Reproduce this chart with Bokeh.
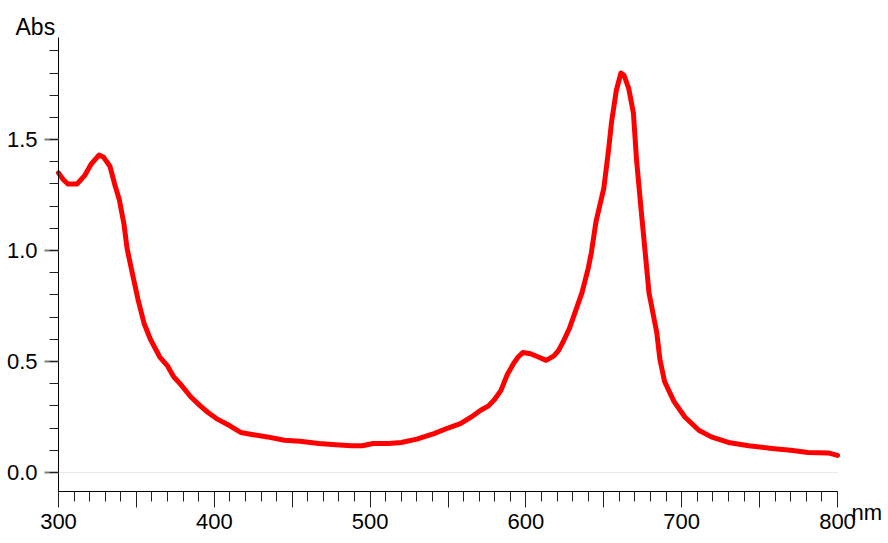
from bokeh.plotting import figure
from bokeh.models import (Range1d, SingleIntervalTicker, CustomJSTickFormatter,
                          PrintfTickFormatter, Label)
from bokeh.embed import file_html
from bokeh.resources import INLINE

# Wavelength (nm) and absorbance
wavelength = [300, 303, 306, 312, 317, 321, 326, 329, 333, 336, 339, 342, 344, 347,
              351, 355, 359, 365, 370, 374, 378, 385, 391, 396, 402, 410, 417, 425,
              434, 445, 455, 467, 478, 488, 495, 502, 512, 520, 530, 541, 550, 558,
              565, 571, 576, 580, 584, 588, 592, 595, 598, 603, 608, 613, 618, 621,
              624, 628, 632, 636, 640, 642, 645, 650, 653, 655, 658, 661, 663, 666,
              669, 671, 674, 677, 679, 684, 686, 689, 695, 702, 711, 719, 730, 743,
              758, 770, 781, 794, 800]
absorbance = [1.35, 1.32, 1.30, 1.30, 1.34, 1.39, 1.43, 1.42, 1.38, 1.30, 1.23, 1.12,
              1.01, 0.91, 0.78, 0.67, 0.60, 0.52, 0.48, 0.43, 0.40, 0.34, 0.30, 0.27,
              0.24, 0.21, 0.18, 0.17, 0.16, 0.145, 0.14, 0.13, 0.125, 0.12, 0.12,
              0.13, 0.13, 0.135, 0.15, 0.175, 0.20, 0.22, 0.25, 0.28, 0.30, 0.33,
              0.37, 0.44, 0.49, 0.52, 0.54, 0.535, 0.52, 0.505, 0.525, 0.55, 0.59,
              0.65, 0.73, 0.81, 0.92, 0.99, 1.13, 1.28, 1.45, 1.58, 1.72, 1.80, 1.79,
              1.73, 1.62, 1.41, 1.18, 0.96, 0.81, 0.63, 0.51, 0.41, 0.32, 0.25, 0.19,
              0.16, 0.135, 0.12, 0.108, 0.10, 0.09, 0.088, 0.077]

x_label = "nm"
y_label = "Abs"
x_bounds = (300, 800)
y_bounds = (-0.086, 1.96)

FONT = "Liberation Sans"
FS = "22px"

W, H = 888, 543
# pixel placement of the plot area inside the canvas
PX_LEFT, PX_RIGHT = 58, 837
PX_TOP, PX_BOTTOM = 37, 491
sx = (PX_RIGHT - PX_LEFT) / (x_bounds[1] - x_bounds[0])
sy = (PX_BOTTOM - PX_TOP) / (y_bounds[1] - y_bounds[0])
x_range = Range1d(x_bounds[0] - PX_LEFT / sx, x_bounds[1] + (W - PX_RIGHT) / sx)
y_range = Range1d(y_bounds[0] - (H - PX_BOTTOM) / sy, y_bounds[1] + PX_TOP / sy)

p = figure(width=W, height=H, output_backend="svg", toolbar_location=None,
           title=None, x_range=x_range, y_range=y_range,
           min_border_left=0, min_border_right=0, min_border_top=0,
           min_border_bottom=0)
p.outline_line_color = None
p.xgrid.visible = False
p.ygrid.visible = False
p.background_fill_color = "white"
p.border_fill_color = "white"

# zero reference line across the wavelength span
p.line([wavelength[0], wavelength[-1]], [0, 0], line_color="#d0d0d0",
       line_width=1, line_dash="1 1")

p.line(wavelength, absorbance, line_color="#ff0000", line_width=5,
       line_join="round", line_cap="round")

# x axis
xa = p.xaxis[0]
xa.fixed_location = y_bounds[0]
xa.bounds = x_bounds
xa.ticker = SingleIntervalTicker(interval=50, num_minor_ticks=5)
xa.formatter = CustomJSTickFormatter(
    code="var t = Math.round(tick); return (t % 100 === 0) ? t.toString() : '';")
xa.axis_line_color = "black"
xa.axis_line_width = 1
xa.major_tick_in = 0
xa.major_tick_out = 16
xa.minor_tick_in = 0
xa.minor_tick_out = 10
xa.major_tick_line_color = "#222222"
xa.minor_tick_line_color = "#222222"
xa.major_label_standoff = 6
xa.major_label_text_font = FONT
xa.major_label_text_font_size = FS
xa.major_label_text_color = "black"

# y axis
ya = p.yaxis[0]
ya.fixed_location = x_bounds[0]
ya.bounds = y_bounds
ya.ticker = SingleIntervalTicker(interval=0.5, num_minor_ticks=5)
ya.formatter = PrintfTickFormatter(format="%.1f")
ya.axis_line_color = "black"
ya.axis_line_width = 1
ya.major_tick_in = 0
ya.major_tick_out = 14
ya.minor_tick_in = 0
ya.minor_tick_out = 9
ya.major_tick_line_color = "#808080"
ya.major_tick_line_width = 2
ya.minor_tick_line_color = "#222222"
ya.major_label_standoff = 7
ya.major_label_text_font = FONT
ya.major_label_text_font_size = FS
ya.major_label_text_color = "black"

# axis titles (the plot frame covers the whole canvas)
p.add_layout(Label(x=15, y=H - 26, x_units="screen", y_units="screen",
                   text=y_label, text_font=FONT, text_font_size="23px",
                   text_baseline="alphabetic", text_align="left",
                   text_color="black"))
p.add_layout(Label(x=851, y=H - 512, x_units="screen", y_units="screen",
                   text=x_label, text_font=FONT, text_font_size="22px",
                   text_baseline="alphabetic", text_align="left",
                   text_color="black"))

open("out.html", "w").write(file_html(p, INLINE))
